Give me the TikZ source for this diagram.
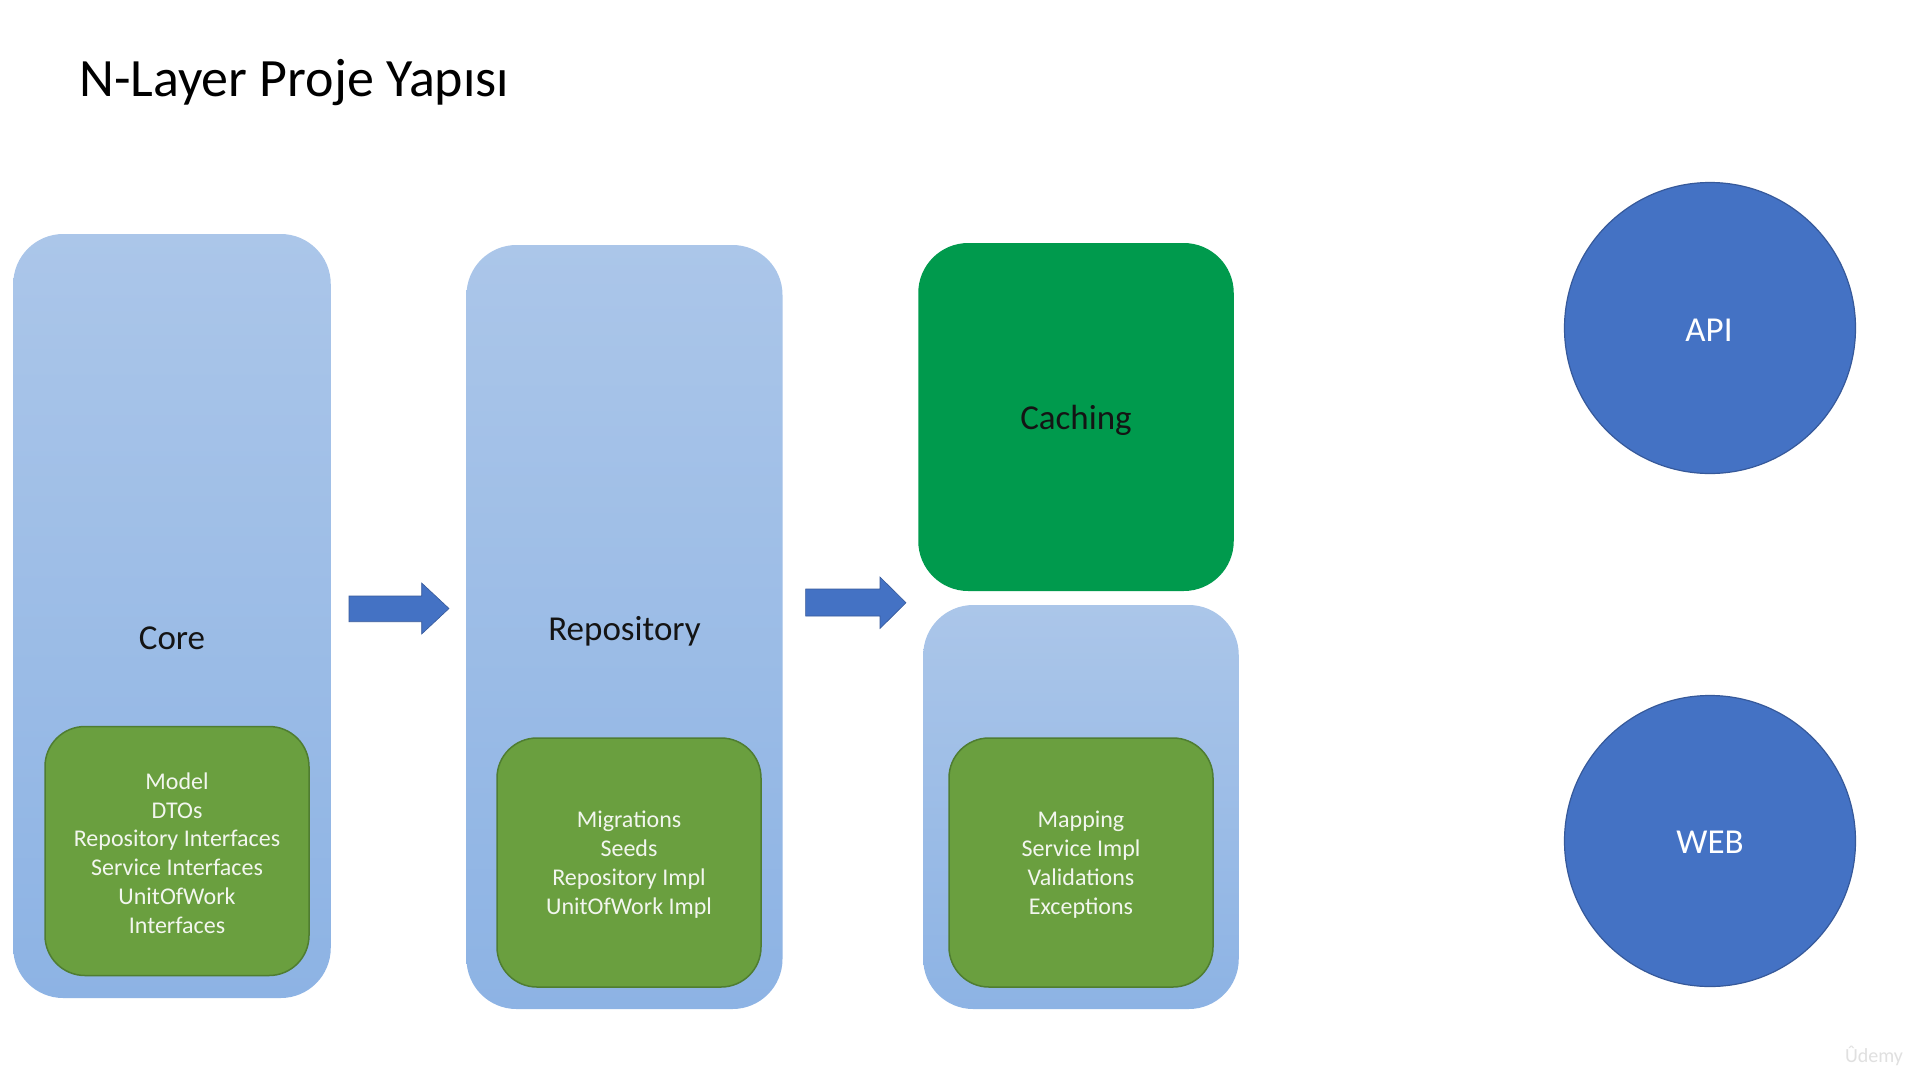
\documentclass[tikz,border=0pt]{standalone}
\usepackage{fontspec}
\setmainfont{Carlito}
\usetikzlibrary{shapes.geometric}
\definecolor{boxtop}{HTML}{ABC6E9}
\definecolor{boxbot}{HTML}{8DB3E4}
\definecolor{innergreen}{HTML}{6A9F3F}
\definecolor{innerborder}{HTML}{4F7D31}
\definecolor{cachegreen}{HTML}{009A4D}
\definecolor{layerblue}{HTML}{4472C4}
\definecolor{layerborder}{HTML}{36599A}
\definecolor{innertext}{HTML}{F2F6EE}
\tikzset{
  outerbox/.style={rectangle, rounded corners=50pt, top color=boxtop, bottom color=boxbot, inner sep=0pt, outer sep=0pt},
  innerbox/.style={rectangle, rounded corners=40pt, fill=innergreen, draw=innerborder, line width=1.5pt, inner sep=0pt, outer sep=0pt, minimum width=264pt, minimum height=249pt},
  innertxt/.style={text=innertext, align=center, font=\fontsize{24}{28.8}\selectfont, inner sep=0pt},
  biglabel/.style={text=black!92, font=\fontsize{35}{42}\selectfont, inner sep=0pt, anchor=base},
  circ/.style={circle, fill=layerblue, draw=layerborder, line width=1.2pt, minimum size=291pt, inner sep=0pt},
  circtxt/.style={text=white, font=\fontsize{35}{42}\selectfont, inner sep=0pt, anchor=base},
  blockarrow/.style={fill=layerblue, draw=layerborder, line width=0.6pt},
}
\begin{document}
\begin{tikzpicture}[x=1pt,y=-1pt]
\useasboundingbox (0,0) rectangle (1920,1080);
\fill[white] (0,0) rectangle (1920,1080);

% title
\node[anchor=base west, inner sep=0pt, font=\fontsize{54}{60}\selectfont, text=black] (title) at (79,96.4) {N-Layer Proje Yapısı};

% Core
\node[outerbox, minimum width=317.5pt, minimum height=764pt] (core) at (172,616) {};
\node[biglabel] (corelbl) at (172,649.5) {Core};
\node[innerbox] (coreinner) at (177,851) {};
\node[innertxt] (coretxt) at (177,853) {Model\\DTOs\\Repository Interfaces\\Service Interfaces\\UnitOfWork\\Interfaces};

% Repository
\node[outerbox, minimum width=316pt, minimum height=764pt] (repo) at (624.5,627) {};
\node[biglabel] (repolbl) at (624.5,640) {Repository};
\node[innerbox] (repoinner) at (629,862.5) {};
\node[innertxt] (repotxt) at (629,864.5) {Migrations\\Seeds\\Repository Impl\\UnitOfWork Impl};

% Caching
\node[rectangle, rounded corners=50pt, fill=cachegreen, inner sep=0pt, minimum width=315.5pt, minimum height=348pt] (caching) at (1076,417) {};
\node[biglabel] (cachelbl) at (1076,429.5) {Caching};

% Service
\node[outerbox, minimum width=315.5pt, minimum height=404pt] (service) at (1081,807) {};
\node[innerbox] (serviceinner) at (1081,862.5) {};
\node[innertxt] (servicetxt) at (1081,864.5) {Mapping\\Service Impl\\Validations\\Exceptions};

% block arrows
\path[blockarrow] (349,596) -- (421.7,596) -- (421.7,583) -- (449,608.5) -- (421.7,634) -- (421.7,621.7) -- (349,621.7) -- cycle;
\path[blockarrow] (805.6,589) -- (880,589) -- (880,577) -- (906,602.7) -- (880,628.5) -- (880,616) -- (805.6,616) -- cycle;

% API / WEB
\node[circ] (api) at (1710,328) {};
\node[circtxt] (apilbl) at (1709,341) {API};
\node[circ] (web) at (1710,841) {};
\node[circtxt] (weblbl) at (1710,853.4) {WEB};

% watermark
\node[anchor=base, inner sep=0pt, text=black!12, font=\fontsize{20}{24}\selectfont] (wm) at (1874,1062) {Ûdemy};
\end{tikzpicture}
\end{document}
